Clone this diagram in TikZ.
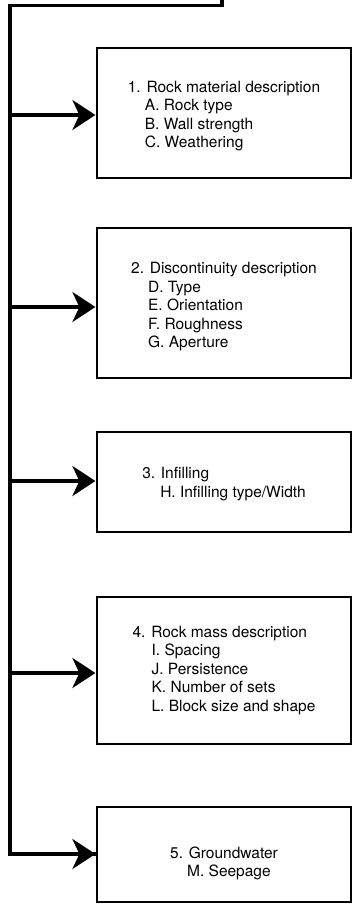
\documentclass[tikz,border=0pt]{standalone}
\usepackage{fontspec}
\setmainfont{TeX Gyre Heros}
\usetikzlibrary{arrows.meta}
\begin{document}
\begin{tikzpicture}[x=1pt,y=-1pt,
  box/.style={draw=black,line width=1.2pt,rectangle,inner sep=0pt,minimum width=254pt},
  txt/.style={align=left,inner sep=0pt,font=\fontsize{15.5}{18.5}\selectfont},
  trunk/.style={line width=3.2pt,line join=miter,line cap=butt},
  feed/.style={line width=3.6pt,-{Stealth[length=23pt,width=30pt,inset=7pt]},shorten >=1pt}]
\useasboundingbox (0,0) rectangle (352,905);
% boxes
\node[box,minimum height=130pt] (b1) at (224,113) {};
\node[box,minimum height=150pt] (b2) at (224,303) {};
\node[box,minimum height=100pt] (b3) at (224,482) {};
\node[box,minimum height=147pt] (b4) at (224,670.5) {};
\node[box,minimum height=95pt]  (b5) at (224,854.5) {};
% texts
\node[txt] (t1) at ([yshift=-3pt]b1.center) {1. Rock material description\\\hspace*{17pt}A. Rock type\\\hspace*{17pt}B. Wall strength\\\hspace*{17pt}C. Weathering};
\node[txt] (t2) at ([yshift=-4pt]b2.center) {2. Discontinuity description\\\hspace*{17pt}D. Type\\\hspace*{17pt}E. Orientation\\\hspace*{17pt}F. Roughness\\\hspace*{17pt}G. Aperture};
\node[txt] (t3) at ([yshift=-2pt]b3.center) {3. Infilling\\\hspace*{18pt}H. Infilling type/Width};
\node[txt] (t4) at (b4.center) {4. Rock mass description\\\hspace*{19pt}I. Spacing\\\hspace*{19pt}J. Persistence\\\hspace*{19pt}K. Number of sets\\\hspace*{19pt}L. Block size and shape};
\node[txt] (t5) at ([yshift=-9pt]b5.center) {5. Groundwater\\\hspace*{17pt}M. Seepage};
% trunk
\coordinate (top) at (222,0);
\coordinate (tc) at (222,5.5);
\coordinate (lc) at (10,5.5);
\coordinate (a1) at (10,115);
\coordinate (a2) at (10,307);
\coordinate (a3) at (10,481);
\coordinate (a4) at (10,673);
\coordinate (a5) at (10,854);
\draw[trunk] (top) -- (tc) -- (lc) -- (a5) -- (a5 -| b5.west);
\draw[feed] (a5) -- (a5 -| b5.west);
\draw[feed] (a1) -- (a1 -| b1.west);
\draw[feed] (a2) -- (a2 -| b2.west);
\draw[feed] (a3) -- (a3 -| b3.west);
\draw[feed] (a4) -- (a4 -| b4.west);
\end{tikzpicture}
\end{document}
